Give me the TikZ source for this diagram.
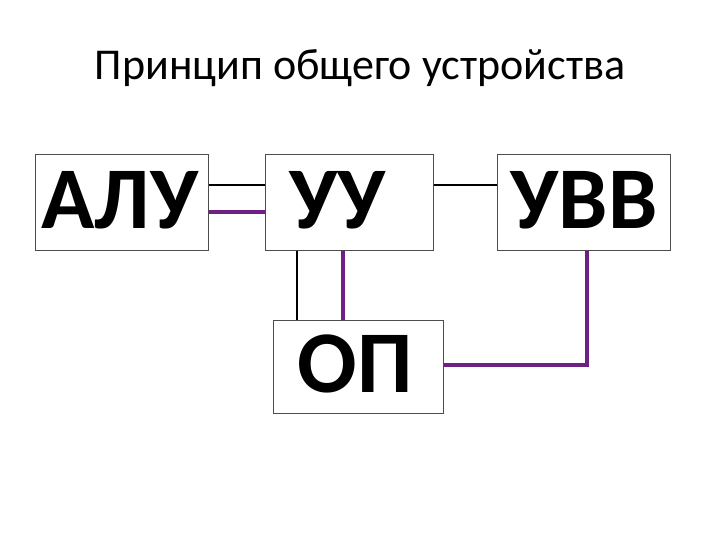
\documentclass[tikz,border=0pt]{standalone}
\usepackage{fontspec}
\setmainfont{Carlito}
\definecolor{pur}{RGB}{112,32,130}
\begin{document}
\begin{tikzpicture}[x=1pt,y=-1pt,
  blk/.style={draw=black!70,line width=1pt,fill=white,inner sep=0pt},
  lbl/.style={font=\fontsize{88}{90}\selectfont\bfseries},
  bl/.style={line width=2pt,black},
  pl/.style={line width=4pt,pur}]
\useasboundingbox[fill=white] (0,0) rectangle (720,540);
\node[font=\fontsize{44}{48}\selectfont] (t) at (360,68) {Принцип общего устройства};
\node[blk,minimum width=173pt,minimum height=95pt] (alu) at (121.5,202.5) {};
\node[blk,minimum width=168pt,minimum height=95pt] (uu) at (349,202.5) {};
\node[blk,minimum width=173pt,minimum height=95pt] (uvv) at (583.5,202.5) {};
\node[blk,minimum width=170pt,minimum height=93pt] (op) at (358,366.5) {};
\node[lbl] (talu) at (120,200) {АЛУ};
\node[lbl] (tuu) at (338,200) {УУ};
\node[lbl] (tuvv) at (584,200) {УВВ};
\node[lbl] (top) at (355,364) {ОП};
\coordinate (c) at (587,365);
\draw[bl] (alu.east|-0,185) -- (uu.west|-0,185);
\draw[pl] (alu.east|-0,212) -- (uu.west|-0,212);
\draw[bl] (uu.east|-0,185) -- (uvv.west|-0,185);
\draw[bl] (uu.south-|297,0) -- (op.north-|297,0);
\draw[pl] (uu.south-|343,0) -- (op.north-|343,0);
\draw[pl] (op.east|-c) -- (c) -- (uvv.south-|c);
\end{tikzpicture}
\end{document}
